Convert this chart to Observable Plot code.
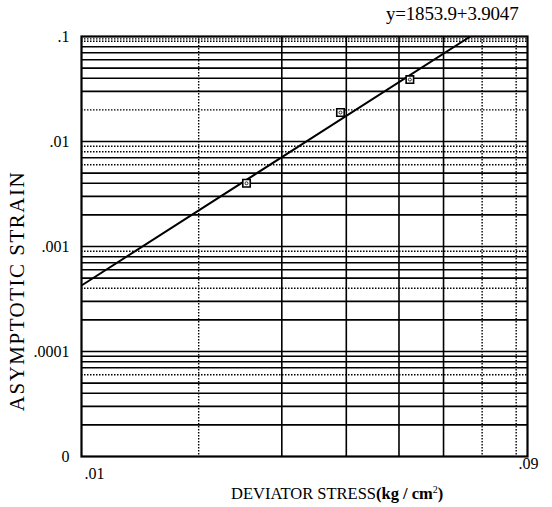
<!DOCTYPE html>
<html><head><meta charset="utf-8">
<script src="https://cdn.jsdelivr.net/npm/d3@7"></script>
<script src="https://cdn.jsdelivr.net/npm/@observablehq/plot@0.6"></script>
<style>
body{margin:0;background:#fff}
#chart{position:relative;width:552px;height:507px;font-family:"Liberation Serif","DejaVu Serif",serif;color:#000}
.ov{position:absolute;white-space:nowrap;line-height:1}
</style>
</head><body><div id="chart"></div>
<script>
// measured points
const stress = [0.0254, 0.0390, 0.0523];
const strain = [0.0040, 0.0189, 0.0389];
// fitted line end points
const fitStress = [0.01, 0.0668];
const fitStrain = [0.000425, 0.1];
// axis extents
const xDomain = [0.01, 0.0836];
const yDomain = [0.00001, 0.1];
// tick labels
const xTickValues = [0.01, 0.0836];
const xTickLabels = [".01", ".09"];
const yTickValues = [0.1, 0.01, 0.001, 0.0001, 0.00001];
const yTickLabels = [".1", ".01", ".001", ".0001", "0"];
// grid lines
const xGridSolid = [0.03, 0.04, 0.05, 0.06];
const xGridDotted = [0.02, 0.07, 0.08];
const yGridSolid = [0.01, 0.001, 0.0001,
  0.03, 0.04, 0.05, 0.06, 0.07, 0.08,
  0.002, 0.003, 0.004, 0.005, 0.007,
  0.0002, 0.0003, 0.0005, 0.0006, 0.0007, 0.0008,
  0.00002, 0.00003, 0.00004, 0.00005, 0.00007, 0.00008, 0.00009];
const yGridDotted = [0.09, 0.02, 0.006, 0.008, 0.009, 0.0004, 0.0009, 0.00006, 0.095];
const titleText = "y=1853.9+3.9047";
const xLabelMain = "DEVIATOR STRESS";
const xLabelUnit = "(kg / cm";
const yLabel = "ASYMPTOTIC STRAIN";

const pts = stress.map((s, i) => ({s, e: strain[i]}));
const fit = fitStress.map((s, i) => ({s, e: fitStrain[i]}));
const yMap = new Map(yTickValues.map((v, i) => [v, yTickLabels[i]]));

const chart = Plot.plot({
  width: 552, height: 507,
  marginLeft: 81, marginRight: 25, marginTop: 36, marginBottom: 51,
  style: {fontFamily: '"Liberation Serif", serif', fontSize: "16px", color: "#000", background: "#fff"},
  x: {type: "symlog", constant: 0.01, domain: xDomain, axis: null},
  y: {type: "log", domain: yDomain, axis: null},
  marks: [
    Plot.ruleY(yGridDotted, {stroke: "#000", strokeWidth: 1.4, strokeDasharray: "1.5,1.5"}),
    Plot.ruleY(yGridSolid, {stroke: "#000", strokeWidth: 1.6}),
    Plot.ruleX(xGridSolid, {stroke: "#000", strokeWidth: 1.6}),
    Plot.ruleX(xGridDotted, {stroke: "#000", strokeWidth: 1.4, strokeDasharray: "1.5,1.5"}),
    Plot.frame({stroke: "#000", strokeWidth: 2.2}),
    Plot.axisY({ticks: yTickValues, tickFormat: d => yMap.get(d), tickSize: 0, tickPadding: 12, fontSize: 16, label: null}),
    Plot.text([xTickLabels[0]], {x: [xTickValues[0]], frameAnchor: "bottom", dy: 22, dx: 3, textAnchor: "start", fontSize: 16}),
    Plot.text([xTickLabels[1]], {x: [xTickValues[1]], frameAnchor: "bottom", dy: 12, dx: -9, textAnchor: "start", fontSize: 16}),
    Plot.line(fit, {x: "s", y: "e", stroke: "#000", strokeWidth: 2, clip: true}),
    Plot.dot(pts, {x: "s", y: "e", symbol: "square", r: 4.2, stroke: "#000", strokeWidth: 1.6, fill: "#fff"}),
    Plot.dot(pts, {x: "s", y: "e", r: 1.5, stroke: "#000", strokeWidth: 0.8, fill: "none"})
  ]
});
const root = document.getElementById("chart");
root.appendChild(chart);

function ov(html, css) {
  const d = document.createElement("div");
  d.className = "ov";
  d.innerHTML = html;
  Object.assign(d.style, css);
  root.appendChild(d);
  return d;
}
ov(titleText, {left: "386px", top: "4px", fontSize: "19px", letterSpacing: "-0.2px"});
ov(xLabelMain + '<b>' + xLabelUnit + '<sup style="font-size:10px;font-weight:normal">2</sup>)</b>', {left: "231px", top: "484px", fontSize: "16.5px"});
ov(yLabel, {left: "17px", top: "291px", fontSize: "21px", letterSpacing: "1.5px", transform: "translate(0,-50%) rotate(-90deg) translate(-50%,0)", transformOrigin: "0 50%"});
</script>
</body></html>
